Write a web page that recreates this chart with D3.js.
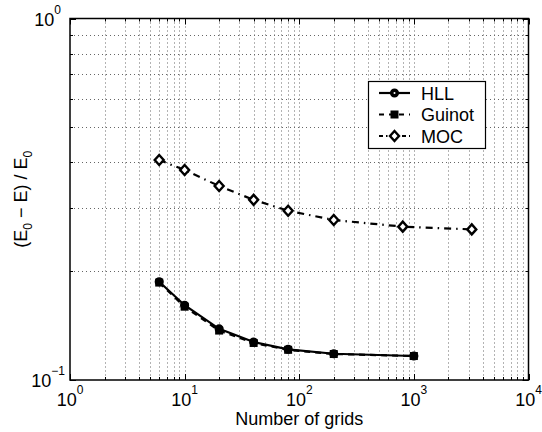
<!DOCTYPE html>
<html><head><meta charset="utf-8">
<script src="https://cdn.jsdelivr.net/npm/d3@7/dist/d3.min.js"></script>
<style>body{margin:0;background:#fff}svg{display:block}text{font-family:"Liberation Sans",Arial,Helvetica,sans-serif;fill:#000}</style>
</head><body>
<svg id="c" width="542" height="432"></svg>
<script>
const hllX = [6, 10, 20, 40, 80, 200, 1000];
const hllY = [0.187, 0.161, 0.1385, 0.1274, 0.1216, 0.1182, 0.1165];
const guinotX = [6, 10, 20, 40, 80, 200, 1000];
const guinotY = [0.186, 0.1595, 0.137, 0.1266, 0.1212, 0.118, 0.1165];
const mocX = [6, 10, 20, 40, 80, 200, 800, 3200];
const mocY = [0.406, 0.381, 0.344, 0.315, 0.294, 0.277, 0.2656, 0.261];
const xTickExps = [0, 1, 2, 3, 4];
const yTickExps = [-1, 0];
const seriesNames = ["HLL", "Guinot", "MOC"];

const svg = d3.select("#c");
const L = 70, R = 528.5, T = 18.5, B = 380;
const x = d3.scaleLog().domain([1, 1e4]).range([L, R]);
const y = d3.scaleLog().domain([0.1, 1]).range([B, T]);

const xMinor = [];
for (let e = 0; e < 4; e++) for (let m = 2; m <= 9; m++) xMinor.push(m * Math.pow(10, e));
const yMinor = [];
for (let m = 2; m <= 9; m++) yMinor.push(m * 0.1);
const xMajor = xTickExps.map(e => Math.pow(10, e));
const yMajor = yTickExps.map(e => Math.pow(10, e));

const grid = svg.append("g").attr("stroke", "#666").attr("stroke-width", 1).attr("stroke-dasharray", "1,3");
xMinor.concat(xMajor.slice(1, -1)).forEach(v => {
  grid.append("line").attr("x1", Math.round(x(v)) + 0.5).attr("x2", Math.round(x(v)) + 0.5).attr("y1", T).attr("y2", B);
});
yMinor.forEach(v => {
  grid.append("line").attr("y1", Math.round(y(v)) + 0.5).attr("y2", Math.round(y(v)) + 0.5).attr("x1", L).attr("x2", R);
});

const tk = svg.append("g").attr("stroke", "#000").attr("stroke-width", 1);
function xt(v, len) {
  const px = Math.round(x(v)) + 0.5;
  tk.append("line").attr("x1", px).attr("x2", px).attr("y1", B).attr("y2", B - len);
  tk.append("line").attr("x1", px).attr("x2", px).attr("y1", T).attr("y2", T + len);
}
function yt(v, len) {
  const py = Math.round(y(v)) + 0.5;
  tk.append("line").attr("y1", py).attr("y2", py).attr("x1", L).attr("x2", L + len);
  tk.append("line").attr("y1", py).attr("y2", py).attr("x1", R).attr("x2", R - len);
}
xMinor.forEach(v => xt(v, 3));
xMajor.forEach(v => xt(v, 6));
yMinor.forEach(v => yt(v, 3));
yMajor.forEach(v => yt(v, 6));

svg.append("rect").attr("x", L).attr("y", T).attr("width", R - L).attr("height", B - T)
  .attr("fill", "none").attr("stroke", "#000").attr("stroke-width", 1.5);

const fs = 18;
xTickExps.forEach(e => {
  const t = svg.append("text").attr("x", x(Math.pow(10, e))).attr("y", 406).attr("text-anchor", "middle").attr("font-size", fs);
  t.append("tspan").text("10");
  t.append("tspan").attr("dy", -12).attr("font-size", 12).text(e < 0 ? "\u2212" + (-e) : e);
});
yTickExps.forEach(e => {
  const t = svg.append("text").attr("x", e < 0 ? 65 : 61).attr("y", y(Math.pow(10, e)) + 7).attr("text-anchor", "end").attr("font-size", fs);
  t.append("tspan").text("10");
  t.append("tspan").attr("dy", -12).attr("font-size", 12).text(e < 0 ? "\u2212" + (-e) : e);
});

svg.append("text").attr("x", (L + R) / 2).attr("y", 425).attr("text-anchor", "middle").attr("font-size", fs).text("Number of grids");
const yl = svg.append("text").attr("transform", `translate(27,${(T + B) / 2}) rotate(-90)`).attr("text-anchor", "middle").attr("font-size", fs);
yl.append("tspan").text("(E");
yl.append("tspan").attr("dy", 5).attr("font-size", 12).text("0");
yl.append("tspan").attr("dy", -5).text(" \u2212 E) / E");
yl.append("tspan").attr("dy", 5).attr("font-size", 12).text("0");

const line = d3.line().x(d => x(d[0])).y(d => y(d[1]));
const series = [
  { name: seriesNames[0], xs: hllX, ys: hllY, dash: null, marker: "circle" },
  { name: seriesNames[1], xs: guinotX, ys: guinotY, dash: "6,5", marker: "square" },
  { name: seriesNames[2], xs: mocX, ys: mocY, dash: "7,5,1.5,5", marker: "diamond" }
];
function drawMarker(g, type, cx, cy) {
  if (type === "circle") {
    g.append("circle").attr("cx", cx).attr("cy", cy).attr("r", 3.8).attr("fill", "#000").attr("stroke", "#000").attr("stroke-width", 1.5);
    g.append("circle").attr("cx", cx).attr("cy", cy).attr("r", 1).attr("fill", "#fff");
  } else if (type === "square") {
    g.append("rect").attr("x", cx - 4).attr("y", cy - 4).attr("width", 8).attr("height", 8).attr("fill", "#000");
  } else {
    g.append("path").attr("d", `M${cx},${cy - 5}L${cx + 4.5},${cy}L${cx},${cy + 5}L${cx - 4.5},${cy}Z`)
      .attr("fill", "#fff").attr("stroke", "#000").attr("stroke-width", 2.4);
  }
}
series.forEach(s => {
  const data = s.xs.map((v, i) => [v, s.ys[i]]);
  const g = svg.append("g");
  g.append("path").attr("d", line(data)).attr("fill", "none").attr("stroke", "#000").attr("stroke-width", 2.2)
    .attr("stroke-dasharray", s.dash);
  data.forEach(d => drawMarker(g, s.marker, x(d[0]), y(d[1])));
});

const lg = svg.append("g");
lg.append("rect").attr("x", 368.5).attr("y", 81.5).attr("width", 117).attr("height", 67).attr("fill", "#fff").attr("stroke", "#000").attr("stroke-width", 1.2);
series.forEach((s, i) => {
  const cy = 93 + i * 21.5;
  lg.append("line").attr("x1", 379).attr("x2", 410).attr("y1", cy).attr("y2", cy).attr("stroke", "#000").attr("stroke-width", 2.2)
    .attr("stroke-dasharray", s.dash ? (i === 1 ? "5,5" : "4,3,1.5,3") : null);
  drawMarker(lg, s.marker, 394.5, cy);
  lg.append("text").attr("x", 421).attr("y", cy + 6.5).attr("font-size", fs).text(s.name);
});
</script>
</body></html>
